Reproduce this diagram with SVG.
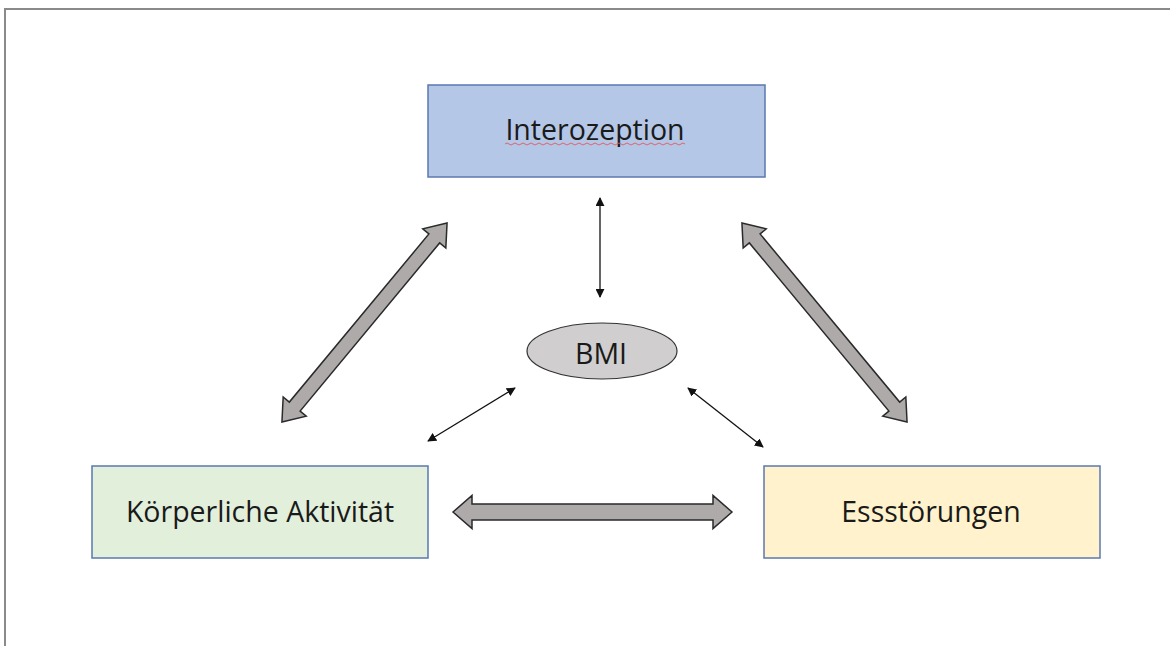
<svg xmlns="http://www.w3.org/2000/svg" width="1170" height="646" viewBox="0 0 1170 646">
<style>
.box{stroke:#5b78b0;stroke-width:1.5}
.lbl{font-family:"Open Sans",Lato,"Liberation Sans",sans-serif;font-size:28.5px;fill:#1a1a1a;text-anchor:middle}
.big{fill:#aeaaaa;stroke:#2a2a2a;stroke-width:1.5;stroke-linejoin:miter}
.thin{stroke:#111;stroke-width:1.3;fill:none;marker-start:url(#ah);marker-end:url(#ah)}
</style>
<defs>
<marker id="ah" viewBox="0 0 10 10" refX="9" refY="5" markerWidth="9" markerHeight="9" markerUnits="userSpaceOnUse" orient="auto-start-reverse">
<path d="M0,0 L10,5 L0,10 Z" fill="#111"/>
</marker>
</defs>
<rect width="1170" height="646" fill="#fff"/>
<path d="M5,646 L5,9 L1170,9" fill="none" stroke="#8a8a8a" stroke-width="2"/>

<g id="connectors">
<path class="big" transform="translate(364.5,322.5) rotate(-50.3)" d="M-129.25,0 L-109.25,-15 L-109.25,-7 L109.25,-7 L109.25,-15 L129.25,0 L109.25,15 L109.25,7 L-109.25,7 L-109.25,15 Z"/>
<path class="big" transform="translate(824.5,322.5) rotate(50.3)" d="M-129.25,0 L-109.25,-15 L-109.25,-7 L109.25,-7 L109.25,-15 L129.25,0 L109.25,15 L109.25,7 L-109.25,7 L-109.25,15 Z"/>
<path class="big" transform="translate(592.5,512)" d="M-139.5,0 L-120.5,-16.5 L-120.5,-8 L120.5,-8 L120.5,-16.5 L139.5,0 L120.5,16.5 L120.5,8 L-120.5,8 L-120.5,16.5 Z"/>
<line class="thin" x1="600" y1="198" x2="600" y2="297"/>
<line class="thin" x1="515" y1="388" x2="428" y2="441"/>
<line class="thin" x1="688" y1="388" x2="763" y2="447"/>
</g>

<g id="interozeption">
<rect class="box" x="428" y="85" width="337" height="92" fill="#b4c7e7"/>
<text class="lbl" x="595" y="140">Interozeption</text>
<path d="M505,144 q2,-2 4,0 t4,0 t4,0 t4,0 t4,0 t4,0 t4,0 t4,0 t4,0 t4,0 t4,0 t4,0 t4,0 t4,0 t4,0 t4,0 t4,0 t4,0 t4,0 t4,0 t4,0 t4,0 t4,0 t4,0 t4,0 t4,0 t4,0 t4,0 t4,0 t4,0 t4,0 t4,0 t4,0 t4,0 t4,0 t4,0 t4,0 t4,0 t4,0 t4,0 t4,0 t4,0 t4,0 t4,0 t4,0" fill="none" stroke="#e05a5a" stroke-width="0.9"/>
</g>

<g id="koerperliche-aktivitaet">
<rect class="box" x="92" y="466" width="336" height="92" fill="#e2efda"/>
<text class="lbl" x="260" y="522">Körperliche Aktivität</text>
</g>

<g id="essstoerungen">
<rect class="box" x="764" y="466" width="336" height="92" fill="#fff2cc"/>
<text class="lbl" x="931" y="522">Essstörungen</text>
</g>

<g id="bmi">
<ellipse cx="602" cy="351" rx="75" ry="28" fill="#d0cece" stroke="#333" stroke-width="1.2"/>
<text class="lbl" x="601" y="364">BMI</text>
</g>
</svg>
